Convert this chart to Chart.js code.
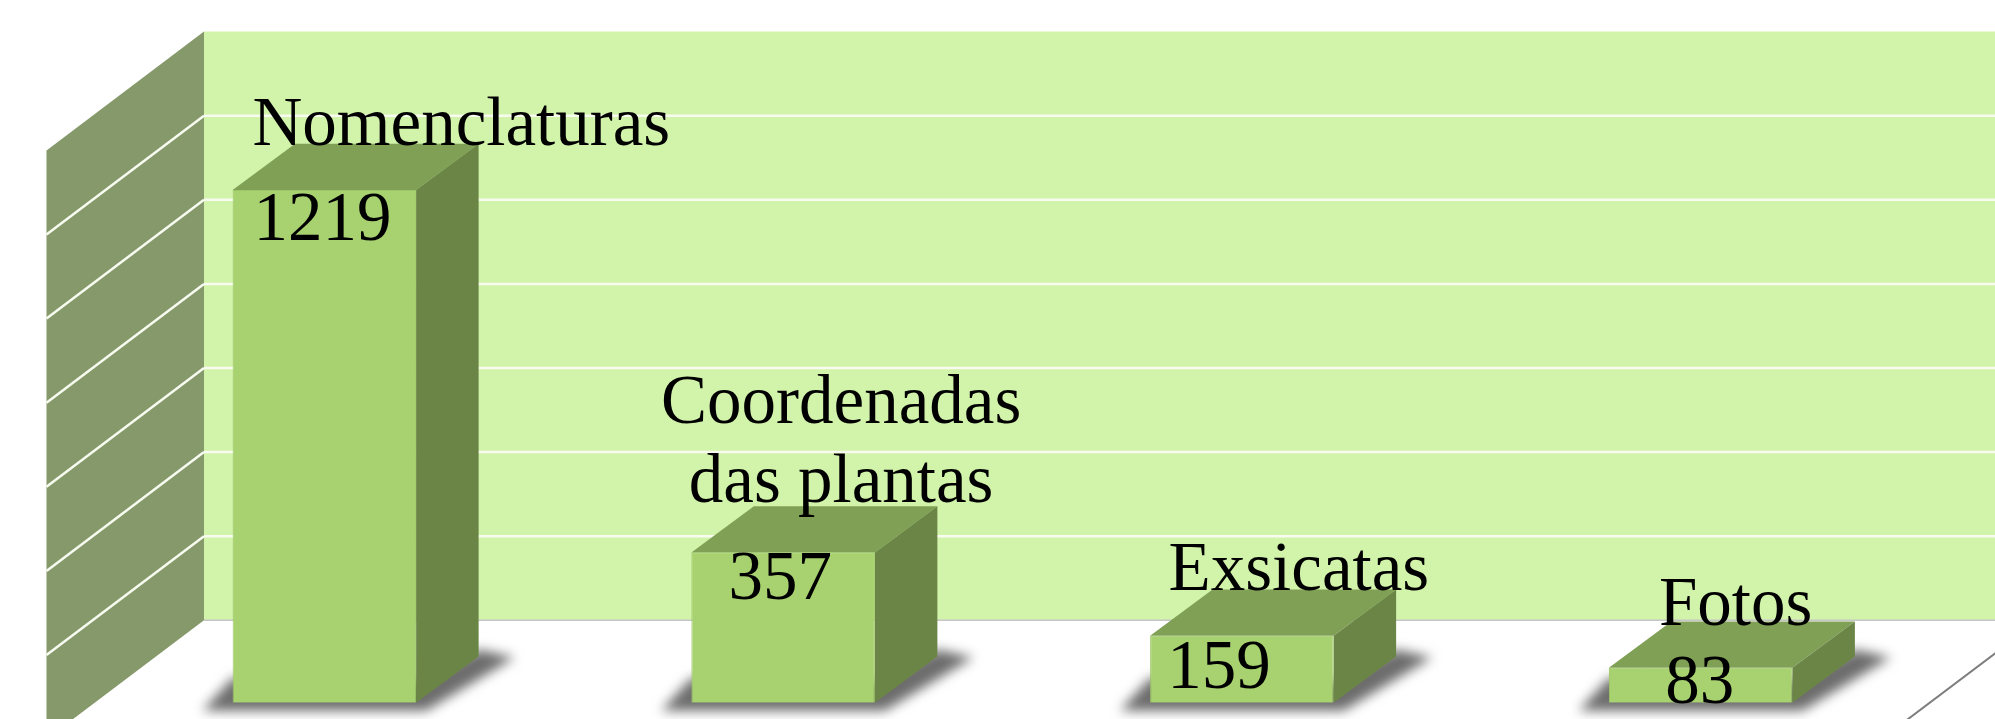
<!DOCTYPE html>
<html>
<head>
    <meta charset="UTF-8">
    <title>Dados</title>
    <script src="https://cdn.jsdelivr.net/npm/chart.js"></script>
    <style>
        html, body { margin: 0; padding: 0; background: #fff; overflow: hidden; }
        .chart-container { width: 1995px; height: 719px; position: relative; }
    </style>
</head>
<body>
    <div class="chart-container">
        <canvas id="barChart"></canvas>
    </div>

    <script>
        // dados
        const categories = [['Nomenclaturas'], ['Coordenadas', 'das plantas'], ['Exsicatas'], ['Fotos']];
        const values = [1219, 357, 159, 83];
        const yMax = 1400;
        const yStep = 200;

        // profundidade do 3D, em px
        const wallDepth = { x: 157.5, y: 118.8 };   // parede lateral inteira
        const floorFront = { x: 109, y: 82.4 };     // do plano das barras ate a parede do fundo
        const barDepth = { x: 62.5, y: 46.3 };

        // deslocamento dos textos em relacao a cada barra
        const labelDx = [137, 58, 57, 35];
        const labelDy = [-45, -51, -46, -43];
        const valueDx = [-2, -3, -23, -1];
        const valueDy = [50, 46, 52, 35];

        const colors = {
            back: '#d2f3aa',
            wall: '#85996b',
            grid: '#f8fcf0',
            front: '#a8d270',
            top: '#7fa055',
            side: '#6b8546',
            floorLine: '#c6c6c6',
            edge: '#7d7d7d'
        };

        function poly(ctx, pts, fill) {
            ctx.beginPath();
            pts.forEach((p, i) => i ? ctx.lineTo(p[0], p[1]) : ctx.moveTo(p[0], p[1]));
            ctx.closePath();
            ctx.fillStyle = fill;
            ctx.fill();
        }

        function line(ctx, x1, y1, x2, y2, color, w) {
            ctx.beginPath();
            ctx.moveTo(x1, y1);
            ctx.lineTo(x2, y2);
            ctx.strokeStyle = color;
            ctx.lineWidth = w;
            ctx.stroke();
        }

        // paredes, grade, sombras e faces laterais das barras
        const box3d = {
            id: 'box3d',
            beforeDatasetsDraw(chart) {
                const ctx = chart.ctx;
                const y = chart.scales.y;
                const a = chart.chartArea;
                const backLeft = a.left + floorFront.x;
                const backRight = a.right + floorFront.x;
                const backTop = y.getPixelForValue(yMax) - floorFront.y;
                const backFloor = y.getPixelForValue(0) - floorFront.y;
                const frontLeft = backLeft - wallDepth.x;

                ctx.save();
                poly(ctx, [[backLeft, backTop], [backRight, backTop], [backRight, backFloor], [backLeft, backFloor]], colors.back);
                poly(ctx, [[backLeft, backTop], [backLeft, backFloor], [frontLeft, backFloor + wallDepth.y], [frontLeft, backTop + wallDepth.y]], colors.wall);

                y.ticks.forEach(t => {
                    if (t.value === 0 || t.value === yMax) return;
                    const py = y.getPixelForValue(t.value) - floorFront.y;
                    line(ctx, backLeft, py, backRight, py, colors.grid, 2.5);
                    line(ctx, backLeft, py, frontLeft, py + wallDepth.y, colors.grid, 2.5);
                });
                line(ctx, backLeft, backFloor, backRight, backFloor, colors.floorLine, 1.5);
                line(ctx, backRight, backFloor, backRight - wallDepth.x, backFloor + wallDepth.y, colors.edge, 2);

                const bars = chart.getDatasetMeta(0).data;
                bars.forEach(b => {
                    const l = b.x - b.width / 2;
                    const r = b.x + b.width / 2;
                    ctx.save();
                    ctx.filter = 'blur(6px)';
                    poly(ctx, [
                        [l - 30, b.base + 8], [r + 10, b.base + 8],
                        [r + barDepth.x + 36, b.base - barDepth.y + 1], [r + barDepth.x, b.base - barDepth.y - 7],
                        [r, b.base - 20], [l, b.base - 25]
                    ], '#6c6c6c');
                    ctx.restore();
                    poly(ctx, [[l, b.y], [r, b.y], [r + barDepth.x, b.y - barDepth.y], [l + barDepth.x, b.y - barDepth.y]], colors.top);
                    poly(ctx, [[r, b.y], [r + barDepth.x, b.y - barDepth.y], [r + barDepth.x, b.base - barDepth.y], [r, b.base]], colors.side);
                });
                ctx.restore();
            },
            afterDatasetsDraw(chart) {
                const ctx = chart.ctx;
                const bars = chart.getDatasetMeta(0).data;
                ctx.save();
                ctx.font = '69px "Liberation Serif"';
                ctx.fillStyle = '#000';
                ctx.textAlign = 'center';
                ctx.textBaseline = 'alphabetic';
                bars.forEach((b, i) => {
                    const lines = categories[i];
                    lines.forEach((txt, j) => {
                        const ly = b.y + labelDy[i] - (lines.length - 1 - j) * 79;
                        ctx.fillText(txt, b.x + labelDx[i], ly);
                    });
                    ctx.fillText(String(values[i]), b.x + valueDx[i], b.y + valueDy[i]);
                });
                ctx.restore();
            }
        };

        new Chart(document.getElementById('barChart'), {
            type: 'bar',
            data: {
                labels: categories,
                datasets: [{
                    data: values,
                    backgroundColor: colors.front,
                    borderColor: '#9cc765',
                    borderWidth: 1,
                    barPercentage: 0.4,
                    categoryPercentage: 1
                }]
            },
            options: {
                responsive: true,
                maintainAspectRatio: false,
                animation: false,
                layout: { padding: { left: 95, right: 65, top: 114, bottom: 16.3 } },
                plugins: { legend: { display: false }, tooltip: { enabled: false } },
                scales: {
                    x: { display: false },
                    y: { display: false, min: 0, max: yMax, ticks: { stepSize: yStep } }
                }
            },
            plugins: [box3d]
        });
    </script>
</body>
</html>
